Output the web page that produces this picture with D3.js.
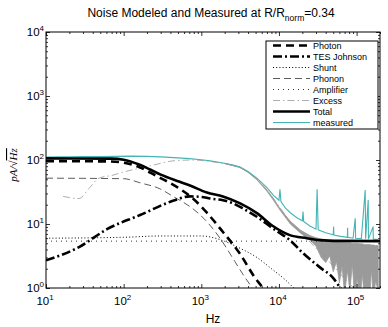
<!DOCTYPE html>
<html>
<head>
<meta charset="utf-8">
<script src="https://cdn.jsdelivr.net/npm/d3@7"></script>
<style>
  body { margin: 0; background: #fff; }
  text { font-family: "Liberation Sans", Arial, Helvetica, sans-serif; }
</style>
</head>
<body>
<div id="chart"></div>
<script>
// values, [Hz, pA/rtHz]
const photon = [[10,96],[60,95],[100,91],[160,77],[260,57],[500,37],[780,25],[1180,15],[1900,7.5],[3160,3.4],[4900,1.45],[6200,1.0],[8000,0.6]];
const tesJohnson = [[10,2.7],[27,4.4],[61,8.3],[163,13.8],[432,23],[714,27],[1000,26.5],[1300,25],[1900,23.5],[2570,21],[3350,17.8],[6000,11.5],[7650,9.2],[10300,7.2],[13800,5.6],[20400,3.5],[33700,2.1],[50000,1.43],[62000,1.0],[80000,0.7]];
const shunt = [[10,6.0],[100,6.2],[300,6.5],[1000,6.5],[1740,5.7],[3000,4.3],[5200,3.0],[8000,2.0],[12000,1.35],[15500,1.0],[20000,0.75]];
const phonon = [[10,52],[100,51],[163,44],[300,35],[432,27],[700,19],[960,14],[1300,9.5],[1740,6],[2700,2.6],[3600,1.5],[4300,1.1],[5500,0.7]];
const amplifier = [[10,5.4],[200000,5.4]];
const excess = [[16.6,27],[26.6,25],[35.8,36],[48,52],[73,58],[87,62],[157,74],[240,83],[432,97],[780,100],[1300,95],[2000,87],[3160,76],[5200,50],[7000,34],[10300,18],[14000,11],[20000,7],[31000,4],[50000,2.2],[70000,1.4],[100000,0.9]];
const total = [[10,106],[70,105],[100,101],[158,85],[219,71],[300,59],[516,46],[714,40],[1180,31],[1900,27],[3160,21],[5200,14.8],[8350,9.3],[13800,6.7],[22800,6.0],[33700,5.6],[60000,5.45],[200000,5.4]];
const measured = [[10,111],[15,112],[20,112],[30,113],[50,113],[80,114],[120,115],[200,114],[300,112],[500,108],[700,105],[1000,101],[1300,97],[1900,90],[2500,84],[3160,78],[4000,66],[5200,52],[7000,37],[8500,28],[10000,23.5],[10300,35],[10600,22.5],[12000,18],[14000,15],[17000,12.5],[20000,11.2],[20400,15.6],[20800,11],[25000,9.3],[30000,8.3],[31000,34.8],[32000,8.1],[40000,7.3],[50000,6.8],[50500,9.1],[51000,6.7],[62000,6.4],[76000,6.2],[76500,8.7],[77000,6.2],[90000,6.0],[96000,12.3],[97000,6.0],[115000,5.9],[129000,34],[130500,5.9],[141000,23.7],[142000,5.8],[163000,9.1],[164000,5.8],[190000,5.7]];
// measured without the reference: a line at first, then a noisy band
const grayFreq = [2000,3160,4000,5200,7000,8500,10300,14000,19000,25000,30000,35000,40000,45000,50000,55000,60000,65000,70000,76000,82000,88000,95000,102000,110000,118000,126000,135000,145000,155000,165000,175000,190000];
const grayHigh = [89,77,65,50,34,25,17.5,11,8,6.6,6.1,5.8,5.6,5.5,5.4,5.3,5.3,5.2,5.2,5.1,5.1,5.0,5.0,5.0,4.9,4.9,4.8,4.8,4.8,4.7,4.7,4.6,4.6];
const grayLow = [88,76,64,49,32.5,23.5,16.5,10,7.2,5.6,4.5,3.0,2.5,3.2,1.8,2.6,1.2,2.2,0.8,1.9,0.9,2.4,0.6,1.5,0.5,1.7,0.7,1.1,0.5,2.0,0.6,1.3,0.9];

const xTicks = [1e1, 1e2, 1e3, 1e4, 1e5];
const yTicks = [1e0, 1e1, 1e2, 1e3, 1e4];
const legendNames = ['Photon', 'TES Johnson', 'Shunt', 'Phonon', 'Amplifier', 'Excess', 'Total', 'measured'];

const width = 388;
const height = 327;
const svg = d3.select('#chart').append('svg')
  .attr('width', width)
  .attr('height', height);

const pLeft = 46, pRight = 380, pTop = 32, pBottom = 288;
const x = d3.scaleLog().domain([10, 2e5]).range([pLeft, pRight]);
const y = d3.scaleLog().domain([1, 1e4]).range([pBottom, pTop]);

svg.append('clipPath').attr('id', 'plot')
  .append('rect')
  .attr('x', pLeft).attr('y', pTop)
  .attr('width', pRight - pLeft).attr('height', pBottom - pTop);

const plot = svg.append('g').attr('clip-path', 'url(#plot)');

// gray measured trace
const grayRows = grayFreq.map((f, i) => ({ f: f, hi: grayHigh[i], lo: grayLow[i] }));
plot.append('path')
  .attr('fill', '#9a9a9a')
  .attr('stroke', '#9a9a9a')
  .attr('stroke-width', 0.8)
  .attr('d', d3.area()
    .x(d => x(d.f))
    .y0(d => y(Math.max(d.lo, 0.3)))
    .y1(d => y(d.hi))(grayRows));

const straight = d3.line().x(d => x(d[0])).y(d => y(d[1]));
const smooth = d3.line().x(d => x(d[0])).y(d => y(d[1])).curve(d3.curveMonotoneX);

plot.append('path')
  .attr('fill', 'none')
  .attr('stroke', '#44b4b4')
  .attr('stroke-width', 1.1)
  .attr('d', straight(measured));

const styles = {
  'Photon':      { data: photon,     color: '#000', w: 2.6, dash: '8,5' },
  'TES Johnson': { data: tesJohnson, color: '#000', w: 2.6, dash: '9,3,2,3' },
  'Shunt':       { data: shunt,      color: '#000', w: 1,   dash: '1,2.2' },
  'Phonon':      { data: phonon,     color: '#333', w: 0.8, dash: '7,4' },
  'Amplifier':   { data: amplifier,  color: '#333', w: 1,   dash: '1,4' },
  'Excess':      { data: excess,     color: '#999', w: 0.8, dash: '7,3,1.5,3' },
  'Total':       { data: total,      color: '#000', w: 2.6, dash: null },
  'measured':    { color: '#44b4b4', w: 1.1, dash: null }
};

['Excess', 'Amplifier', 'Shunt', 'Phonon', 'Photon', 'TES Johnson', 'Total'].forEach(name => {
  const s = styles[name];
  plot.append('path')
    .attr('fill', 'none')
    .attr('stroke', s.color)
    .attr('stroke-width', s.w)
    .attr('stroke-dasharray', s.dash)
    .attr('d', smooth(s.data));
});

// axes with inward ticks on all sides
const minorX = [];
for (let e = 1; e <= 5; e++) for (let m = 2; m <= 9; m++) if (m * 10 ** e <= 2e5) minorX.push(m * 10 ** e);
const minorY = [];
for (let e = 0; e < 4; e++) for (let m = 2; m <= 9; m++) minorY.push(m * 10 ** e);

function ticks(axis, scale, vals, size, pos) {
  const g = svg.append('g')
    .attr('transform', pos)
    .call(axis(scale).tickValues(vals).tickSize(size).tickFormat(''));
  g.selectAll('.domain').remove();
  g.selectAll('line').attr('stroke', '#000').attr('stroke-width', 0.8);
}
ticks(d3.axisBottom, x, xTicks, -4, `translate(0,${pBottom})`);
ticks(d3.axisBottom, x, minorX, -2, `translate(0,${pBottom})`);
ticks(d3.axisTop, x, xTicks, -4, `translate(0,${pTop})`);
ticks(d3.axisTop, x, minorX, -2, `translate(0,${pTop})`);
ticks(d3.axisLeft, y, yTicks, -4, `translate(${pLeft},0)`);
ticks(d3.axisLeft, y, minorY, -2, `translate(${pLeft},0)`);
ticks(d3.axisRight, y, yTicks, -4, `translate(${pRight},0)`);
ticks(d3.axisRight, y, minorY, -2, `translate(${pRight},0)`);

svg.append('rect')
  .attr('x', pLeft).attr('y', pTop)
  .attr('width', pRight - pLeft).attr('height', pBottom - pTop)
  .attr('fill', 'none').attr('stroke', '#000').attr('stroke-width', 1);

// power-of-ten labels
function powLabel(sel) {
  sel.append('tspan').text('10');
  sel.append('tspan')
    .attr('font-size', 8)
    .attr('dy', -5)
    .text(d => Math.round(Math.log10(d)));
}
svg.selectAll('.xlab').data(xTicks).enter().append('text')
  .attr('x', d => x(d) - 1)
  .attr('y', 305)
  .attr('text-anchor', 'middle')
  .attr('font-size', 11.5)
  .call(powLabel);
svg.selectAll('.ylab').data(yTicks).enter().append('text')
  .attr('x', pLeft - 2)
  .attr('y', d => y(d) + 4)
  .attr('text-anchor', 'end')
  .attr('font-size', 11.5)
  .call(powLabel);

// titles
const title = svg.append('text')
  .attr('x', 211).attr('y', 17)
  .attr('text-anchor', 'middle')
  .attr('font-size', 12);
title.append('tspan').text('Noise Modeled and Measured at R/R');
title.append('tspan').attr('font-size', 8.5).attr('dy', 4).text('norm');
title.append('tspan').attr('dy', -4).text('=0.34');

svg.append('text')
  .attr('x', 213).attr('y', 323)
  .attr('text-anchor', 'middle')
  .attr('font-size', 12)
  .text('Hz');

const ylab = svg.append('text')
  .attr('transform', 'translate(17,165) rotate(-90)')
  .attr('text-anchor', 'middle')
  .attr('font-size', 11)
  .attr('font-style', 'italic')
  .style('font-family', '"Liberation Serif", "DejaVu Serif", serif');
ylab.append('tspan').text('pA/\u221A');
ylab.append('tspan').style('text-decoration', 'overline').text('Hz');

// legend
const legend = svg.append('g').attr('class', 'legend');
legend.append('rect')
  .attr('x', 266).attr('y', 41)
  .attr('width', 112).attr('height', 88)
  .attr('fill', '#fff').attr('stroke', '#000').attr('stroke-width', 1);
legendNames.forEach((name, i) => {
  const s = styles[name];
  const ly = 45.5 + i * 11;
  legend.append('line')
    .attr('x1', 273).attr('x2', 310)
    .attr('y1', ly).attr('y2', ly)
    .attr('stroke', s.color)
    .attr('stroke-width', s.w)
    .attr('stroke-dasharray', s.dash);
  legend.append('text')
    .attr('x', 313).attr('y', ly + 3.2)
    .attr('font-size', 9)
    .text(name);
});
</script>
</body>
</html>
